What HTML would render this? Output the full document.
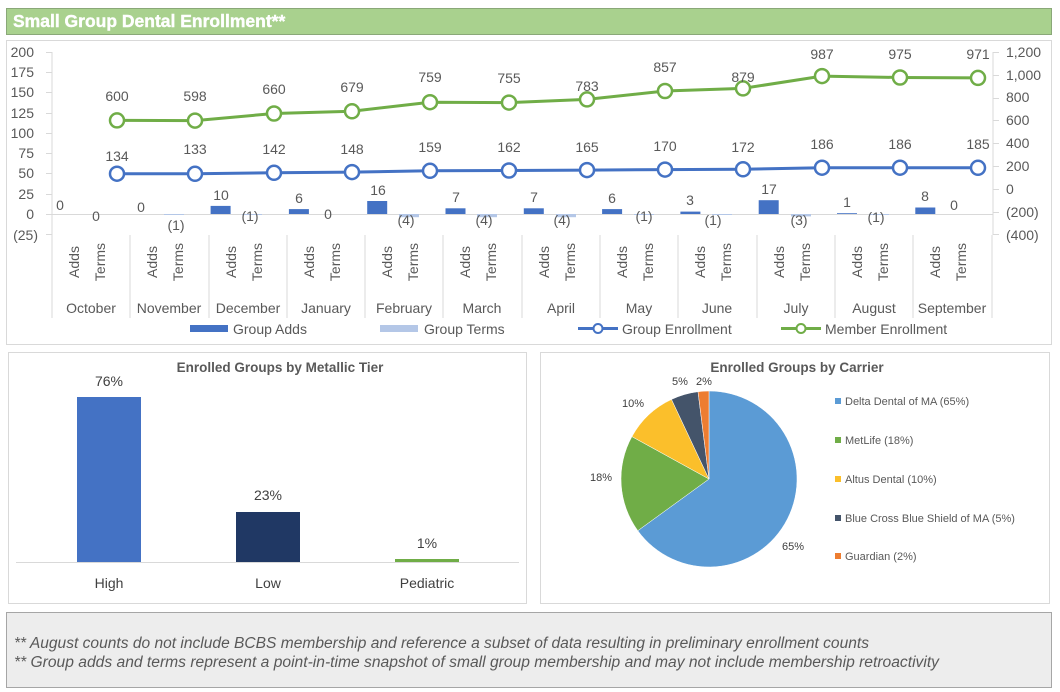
<!DOCTYPE html>
<html><head><meta charset="utf-8"><style>
html,body{margin:0;padding:0;background:#fff;}
svg{display:block;font-family:"Liberation Sans",Arial,sans-serif;}
</style></head><body>
<svg width="1060" height="692" viewBox="0 0 1060 692" xmlns="http://www.w3.org/2000/svg">
<rect width="1060" height="692" fill="#fff"/>
<!-- title -->
<rect x="6.5" y="8.5" width="1045" height="26" fill="#a9d18e" stroke="#8aa878"/>
<text x="13" y="27" font-size="17.5" font-weight="bold" fill="#fff" stroke="#fff" stroke-width="0.4">Small Group Dental Enrollment**</text>
<!-- top panel -->
<rect x="6.5" y="40.5" width="1045" height="304" fill="#fff" stroke="#d9d9d9"/>
<g font-size="14" fill="#595959">
<g text-anchor="end">
<text x="34" y="57">200</text><text x="34" y="77">175</text><text x="34" y="97">150</text><text x="34" y="118">125</text><text x="34" y="138">100</text><text x="34" y="158">75</text><text x="34" y="178">50</text><text x="34" y="199">25</text><text x="34" y="219">0</text><text x="38" y="240">(25)</text>
</g>
<text x="1006" y="57">1,200</text><text x="1006" y="80">1,000</text><text x="1006" y="102">800</text><text x="1006" y="125">600</text><text x="1006" y="148">400</text><text x="1006" y="171">200</text><text x="1006" y="194">0</text><text x="1006" y="217">(200)</text><text x="1006" y="240">(400)</text>
</g>
<g stroke="#d9d9d9" stroke-width="1">
<line x1="52" y1="52" x2="52" y2="235"/>
<line x1="993" y1="52" x2="993" y2="235"/>
<line x1="46" y1="52.5" x2="52" y2="52.5"/><line x1="46" y1="72.5" x2="52" y2="72.5"/><line x1="46" y1="92.5" x2="52" y2="92.5"/><line x1="46" y1="113.5" x2="52" y2="113.5"/><line x1="46" y1="133.5" x2="52" y2="133.5"/><line x1="46" y1="153.5" x2="52" y2="153.5"/><line x1="46" y1="173.5" x2="52" y2="173.5"/><line x1="46" y1="194.5" x2="52" y2="194.5"/><line x1="46" y1="234.5" x2="52" y2="234.5"/>
<line x1="993" y1="52.5" x2="999" y2="52.5"/><line x1="993" y1="75.5" x2="999" y2="75.5"/><line x1="993" y1="98.5" x2="999" y2="98.5"/><line x1="993" y1="120.5" x2="999" y2="120.5"/><line x1="993" y1="143.5" x2="999" y2="143.5"/><line x1="993" y1="166.5" x2="999" y2="166.5"/><line x1="993" y1="189.5" x2="999" y2="189.5"/><line x1="993" y1="212.5" x2="999" y2="212.5"/><line x1="993" y1="234.5" x2="999" y2="234.5"/>
<line x1="46" y1="214.5" x2="993" y2="214.5"/>
<line x1="52" y1="235" x2="52" y2="318"/><line x1="130" y1="235" x2="130" y2="318"/><line x1="209" y1="235" x2="209" y2="318"/><line x1="287" y1="235" x2="287" y2="318"/><line x1="365" y1="235" x2="365" y2="318"/><line x1="443" y1="235" x2="443" y2="318"/><line x1="522" y1="235" x2="522" y2="318"/><line x1="600" y1="235" x2="600" y2="318"/><line x1="678" y1="235" x2="678" y2="318"/><line x1="757" y1="235" x2="757" y2="318"/><line x1="835" y1="235" x2="835" y2="318"/><line x1="913" y1="235" x2="913" y2="318"/><line x1="992" y1="235" x2="992" y2="318"/>
</g>
<!-- bars adds -->
<g fill="#4472c4">
<rect x="210.6" y="205.9" width="20" height="8.1"/>
<rect x="288.9" y="209.1" width="20" height="4.9"/>
<rect x="367.2" y="201" width="20" height="13"/>
<rect x="445.5" y="208.3" width="20" height="5.7"/>
<rect x="523.8" y="208.3" width="20" height="5.7"/>
<rect x="602.1" y="209.1" width="20" height="4.9"/>
<rect x="680.4" y="211.6" width="20" height="2.4"/>
<rect x="758.7" y="200.2" width="20" height="13.8"/>
<rect x="837" y="213.2" width="20" height="0.8"/>
<rect x="915.3" y="207.5" width="20" height="6.5"/>
</g>
<g fill="#b4c7e7">
<rect x="164" y="214" width="20" height="1"/><rect x="242" y="214" width="20" height="1"/><rect x="399" y="214" width="20" height="3.2"/><rect x="477" y="214" width="20" height="3.2"/><rect x="556" y="214" width="20" height="3.2"/><rect x="634" y="214" width="20" height="1"/><rect x="712" y="214" width="20" height="1"/><rect x="791" y="214" width="20" height="2.4"/><rect x="869" y="214" width="20" height="1"/>
</g>
<g font-size="14" fill="#595959" text-anchor="middle">
<text x="60" y="210">0</text><text x="141" y="212">0</text><text x="221" y="200">10</text><text x="299" y="203">6</text><text x="378" y="195">16</text><text x="456" y="202">7</text><text x="534" y="202">7</text><text x="612" y="203">6</text><text x="690" y="205">3</text><text x="769" y="194">17</text><text x="847" y="207">1</text><text x="925" y="201">8</text>
<text x="96" y="221">0</text><text x="176" y="230">(1)</text><text x="250" y="221">(1)</text><text x="328" y="219">0</text><text x="406" y="225">(4)</text><text x="484" y="225">(4)</text><text x="562" y="225">(4)</text><text x="644" y="221">(1)</text><text x="713" y="225">(1)</text><text x="799" y="225">(3)</text><text x="876" y="222">(1)</text><text x="954" y="210">0</text>
</g>
<!-- rotated labels -->
<g font-size="14" fill="#595959" text-anchor="middle">
<text transform="translate(79,262) rotate(-90)">Adds</text><text transform="translate(105,262) rotate(-90)">Terms</text>
<text transform="translate(157,262) rotate(-90)">Adds</text><text transform="translate(183,262) rotate(-90)">Terms</text>
<text transform="translate(236,262) rotate(-90)">Adds</text><text transform="translate(262,262) rotate(-90)">Terms</text>
<text transform="translate(314,262) rotate(-90)">Adds</text><text transform="translate(340,262) rotate(-90)">Terms</text>
<text transform="translate(392,262) rotate(-90)">Adds</text><text transform="translate(418,262) rotate(-90)">Terms</text>
<text transform="translate(470,262) rotate(-90)">Adds</text><text transform="translate(496,262) rotate(-90)">Terms</text>
<text transform="translate(549,262) rotate(-90)">Adds</text><text transform="translate(575,262) rotate(-90)">Terms</text>
<text transform="translate(627,262) rotate(-90)">Adds</text><text transform="translate(653,262) rotate(-90)">Terms</text>
<text transform="translate(705,262) rotate(-90)">Adds</text><text transform="translate(731,262) rotate(-90)">Terms</text>
<text transform="translate(784,262) rotate(-90)">Adds</text><text transform="translate(810,262) rotate(-90)">Terms</text>
<text transform="translate(862,262) rotate(-90)">Adds</text><text transform="translate(888,262) rotate(-90)">Terms</text>
<text transform="translate(940,262) rotate(-90)">Adds</text><text transform="translate(966,262) rotate(-90)">Terms</text>
<text x="91" y="313">October</text><text x="169" y="313">November</text><text x="248" y="313">December</text><text x="326" y="313">January</text><text x="404" y="313">February</text><text x="482" y="313">March</text><text x="561" y="313">April</text><text x="639" y="313">May</text><text x="717" y="313">June</text><text x="796" y="313">July</text><text x="874" y="313">August</text><text x="952" y="313">September</text>
</g>
<!-- lines -->
<polyline fill="none" stroke="#70ad47" stroke-width="3" points="117,120.4 195,120.6 274,113.5 352,111.3 430,102.2 509,102.6 587,99.4 665,91 743,88.4 822,76.1 900,77.5 978,77.9"/>
<polyline fill="none" stroke="#4472c4" stroke-width="3" points="117,173.7 195,173.8 274,172.8 352,172.1 430,170.8 509,170.5 587,170.1 665,169.6 743,169.3 822,167.7 900,167.7 978,167.8"/>
<g fill="#fff" stroke="#70ad47" stroke-width="2.5">
<circle cx="117" cy="120.4" r="7"/><circle cx="195" cy="120.6" r="7"/><circle cx="274" cy="113.5" r="7"/><circle cx="352" cy="111.3" r="7"/><circle cx="430" cy="102.2" r="7"/><circle cx="509" cy="102.6" r="7"/><circle cx="587" cy="99.4" r="7"/><circle cx="665" cy="91" r="7"/><circle cx="743" cy="88.4" r="7"/><circle cx="822" cy="76.1" r="7"/><circle cx="900" cy="77.5" r="7"/><circle cx="978" cy="77.9" r="7"/>
</g>
<g fill="#fff" stroke="#4472c4" stroke-width="2.5">
<circle cx="117" cy="173.7" r="7"/><circle cx="195" cy="173.8" r="7"/><circle cx="274" cy="172.8" r="7"/><circle cx="352" cy="172.1" r="7"/><circle cx="430" cy="170.8" r="7"/><circle cx="509" cy="170.5" r="7"/><circle cx="587" cy="170.1" r="7"/><circle cx="665" cy="169.6" r="7"/><circle cx="743" cy="169.3" r="7"/><circle cx="822" cy="167.7" r="7"/><circle cx="900" cy="167.7" r="7"/><circle cx="978" cy="167.8" r="7"/>
</g>
<g font-size="14" fill="#595959" text-anchor="middle">
<text x="117" y="101">600</text><text x="195" y="101">598</text><text x="274" y="94">660</text><text x="352" y="92">679</text><text x="430" y="82">759</text><text x="509" y="83">755</text><text x="587" y="91">783</text><text x="665" y="72">857</text><text x="743" y="82">879</text><text x="822" y="59">987</text><text x="900" y="59">975</text><text x="978" y="59">971</text>
<text x="117" y="161">134</text><text x="195" y="154">133</text><text x="274" y="154">142</text><text x="352" y="154">148</text><text x="430" y="152">159</text><text x="509" y="152">162</text><text x="587" y="152">165</text><text x="665" y="151">170</text><text x="743" y="152">172</text><text x="822" y="149">186</text><text x="900" y="149">186</text><text x="978" y="149">185</text>
</g>
<!-- legend -->
<rect x="190" y="325" width="38" height="7" fill="#4472c4"/>
<rect x="380" y="325" width="38" height="7" fill="#b4c7e7"/>
<line x1="578" y1="328.5" x2="618" y2="328.5" stroke="#4472c4" stroke-width="3"/><circle cx="598" cy="328.5" r="4.5" fill="#fff" stroke="#4472c4" stroke-width="2"/>
<line x1="781" y1="328.5" x2="821" y2="328.5" stroke="#70ad47" stroke-width="3"/><circle cx="801" cy="328.5" r="4.5" fill="#fff" stroke="#70ad47" stroke-width="2"/>
<g font-size="14" fill="#595959">
<text x="233" y="334">Group Adds</text><text x="424" y="334">Group Terms</text><text x="622" y="334">Group Enrollment</text><text x="825" y="334">Member Enrollment</text>
</g>
<!-- bottom left -->
<rect x="8.5" y="352.5" width="518" height="251" fill="#fff" stroke="#d9d9d9"/>
<text x="280" y="372" font-size="13.5" font-weight="bold" fill="#595959" text-anchor="middle">Enrolled Groups by Metallic Tier</text>
<rect x="77" y="397" width="64" height="165" fill="#4472c4"/>
<rect x="236" y="512" width="64" height="50" fill="#203864"/>
<rect x="395" y="559" width="64" height="3" fill="#70ad47"/>
<line x1="16" y1="562.5" x2="519" y2="562.5" stroke="#d9d9d9"/>
<g font-size="14" fill="#404040" text-anchor="middle">
<text x="109" y="386">76%</text><text x="268" y="500">23%</text><text x="427" y="548">1%</text>
<text x="109" y="588">High</text><text x="268" y="588">Low</text><text x="427" y="588">Pediatric</text>
</g>
<!-- bottom right -->
<rect x="540.5" y="352.5" width="509" height="251" fill="#fff" stroke="#d9d9d9"/>
<text x="797" y="372" font-size="13.5" font-weight="bold" fill="#595959" text-anchor="middle">Enrolled Groups by Carrier</text>
<g stroke="#fff" stroke-width="0.5">
<path d="M709,479 L709,391 A88,88 0 1,1 637.8,530.7 Z" fill="#5b9bd5"/>
<path d="M709,479 L637.8,530.7 A88,88 0 0,1 631.9,436.6 Z" fill="#70ad47"/>
<path d="M709,479 L631.9,436.6 A88,88 0 0,1 671.5,399.4 Z" fill="#fbbf2b"/>
<path d="M709,479 L671.5,399.4 A88,88 0 0,1 698,391.7 Z" fill="#44546a"/>
<path d="M709,479 L698,391.7 A88,88 0 0,1 709,391 Z" fill="#ed7d31"/>
</g>
<g font-size="11" fill="#404040" text-anchor="middle">
<text x="793" y="550">65%</text><text x="601" y="481">18%</text><text x="633" y="407">10%</text><text x="680" y="385">5%</text><text x="704" y="385">2%</text>
</g>
<g font-size="11" fill="#595959">
<rect x="835" y="398" width="6" height="6" fill="#5b9bd5"/><text x="845" y="405">Delta Dental of MA (65%)</text>
<rect x="835" y="437" width="6" height="6" fill="#70ad47"/><text x="845" y="444">MetLife (18%)</text>
<rect x="835" y="476" width="6" height="6" fill="#fbbf2b"/><text x="845" y="483">Altus Dental (10%)</text>
<rect x="835" y="515" width="6" height="6" fill="#44546a"/><text x="845" y="522">Blue Cross Blue Shield of MA (5%)</text>
<rect x="835" y="553" width="6" height="6" fill="#ed7d31"/><text x="845" y="560">Guardian (2%)</text>
</g>
<!-- footer -->
<rect x="6.5" y="612.5" width="1045" height="75" fill="#ededed" stroke="#a6a6a6"/>
<g font-size="15.5" font-style="italic" fill="#595959">
<text x="14" y="648" textLength="855" lengthAdjust="spacingAndGlyphs">** August counts do not include BCBS membership and reference a subset of data resulting in preliminary enrollment counts</text>
<text x="14" y="667" textLength="925" lengthAdjust="spacingAndGlyphs">** Group adds and terms represent a point-in-time snapshot of small group membership and may not include membership retroactivity</text>
</g>
</svg>
</body></html>
